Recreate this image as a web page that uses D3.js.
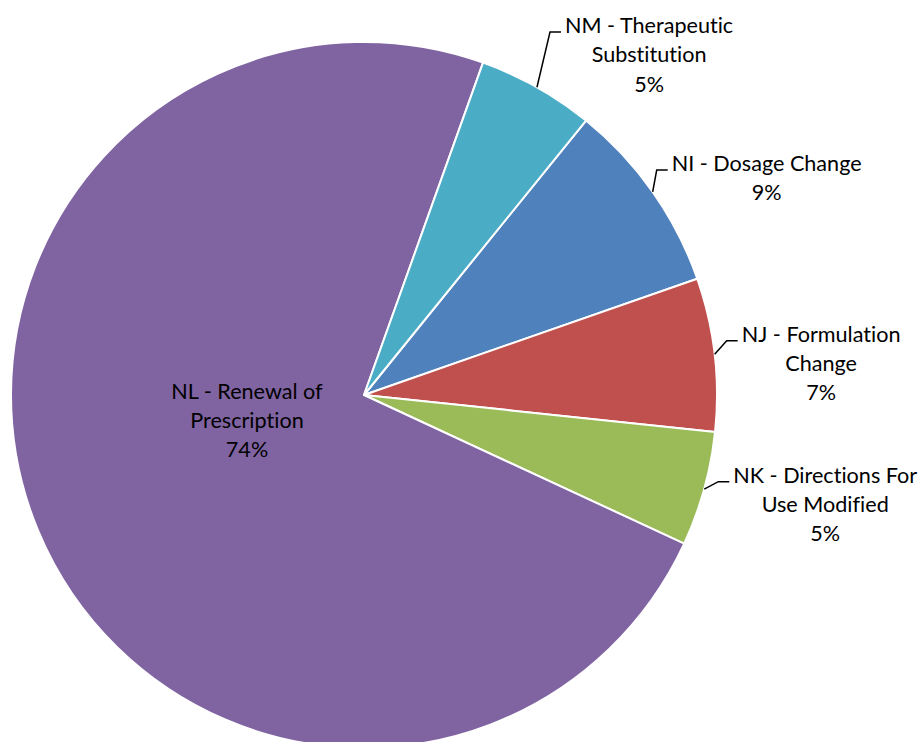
<!DOCTYPE html>
<html>
<head>
<meta charset="utf-8">
<script src="https://cdn.jsdelivr.net/npm/d3@7"></script>
<style>
  html, body { margin: 0; padding: 0; background: #fff; }
  svg { display: block; }
  text { font-variant-ligatures: none; font-feature-settings: "liga" 0; }
</style>
</head>
<body>
<svg id="chart" width="921" height="742"></svg>
<script>
// ---- data ----
const categories = ["NI - Dosage Change", "NJ - Formulation Change", "NK - Directions For Use Modified", "NL - Renewal of Prescription", "NM - Therapeutic Substitution"];
const labelLines = [
  ["NI - Dosage Change"],
  ["NJ - Formulation", "Change"],
  ["NK - Directions For", "Use Modified"],
  ["NL - Renewal of", "Prescription"],
  ["NM - Therapeutic", "Substitution"]
];
const values = [8.83, 7.01, 5.25, 73.55, 5.35];
const colors = ["#4F81BD", "#C0504D", "#9BBB59", "#8064A2", "#4BACC6"];

// ---- layout ----
const W = 921, H = 742;
const cx = 364, cy = 395, R = 353;
const startDeg = 38.97;
const fontSize = 21.6, lineH = 29.3;
// elbow points of leader lines relative to center (null = label inside)
const elbows = [[292.7, -225], [362.7, -54.3], [354.3, 86.7], null, [186, -363]];
const insideLabel = [-117, 27]; // centre of NL label block relative to pie center

const svg = d3.select("#chart");
const g = svg.append("g").attr("transform", `translate(${cx},${cy})`);

const total = d3.sum(values);
const pie = d3.pie().sort(null).value(d => d)
  .startAngle(startDeg * Math.PI / 180)
  .endAngle(startDeg * Math.PI / 180 + 2 * Math.PI);
const arcs = pie(values);
const arc = d3.arc().innerRadius(0).outerRadius(R);

g.selectAll("path.slice").data(arcs).enter().append("path")
  .attr("class", "slice")
  .attr("d", arc)
  .attr("fill", (d, i) => colors[i])
  .attr("stroke", "#fff")
  .attr("stroke-width", 2)
  .attr("stroke-linejoin", "round");

const fmt = v => Math.round(v / total * 100) + "%";
const font = "Lato, 'Open Sans', sans-serif";

arcs.forEach((d, i) => {
  const lines = labelLines[i].concat([fmt(values[i])]);
  const mid = (d.startAngle + d.endAngle) / 2;
  if (elbows[i]) {
    const p0 = [R * Math.sin(mid), -R * Math.cos(mid)];
    const e = elbows[i];
    const p2 = [e[0] + 11, e[1]];
    g.append("path")
      .attr("d", d3.line()([p0, e, p2]))
      .attr("fill", "none").attr("stroke", "#000").attr("stroke-width", 1.5);
    const t = g.append("text")
      .attr("font-family", font).attr("font-size", fontSize).attr("fill", "#000")
      .attr("text-anchor", "middle");
    const spans = lines.map((l, k) => t.append("tspan").attr("y", e[1] + 1 + k * lineH).text(l));
    const wmax = d3.max(spans, s => s.node().getComputedTextLength());
    const tx = p2[0] + 4 + wmax / 2;
    spans.forEach(s => s.attr("x", tx));
  } else {
    const t = g.append("text")
      .attr("font-family", font).attr("font-size", fontSize).attr("fill", "#000")
      .attr("text-anchor", "middle");
    lines.forEach((l, k) => t.append("tspan")
      .attr("x", insideLabel[0])
      .attr("y", insideLabel[1] + 6 + (k - 1) * lineH).text(l));
  }
});
</script>
</body>
</html>
